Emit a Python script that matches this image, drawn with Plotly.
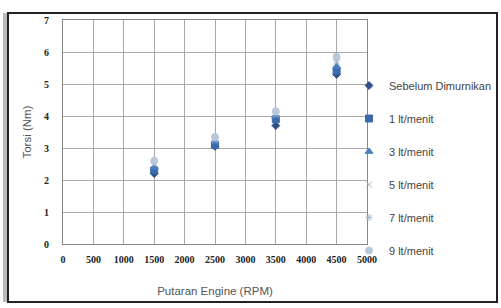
import plotly.graph_objects as go

rpm = [1500, 2500, 3500, 4500]
series_names = ["Sebelum Dimurnikan", "1 lt/menit", "3 lt/menit", "5 lt/menit", "7 lt/menit", "9 lt/menit"]
sebelum = [2.2, 3.05, 3.7, 5.3]
lt1 = [2.3, 3.1, 3.9, 5.4]
lt3 = [2.4, 3.2, 4.0, 5.55]
lt5 = [2.5, 3.25, 4.05, 5.7]
lt7 = [2.55, 3.3, 4.1, 5.75]
lt9 = [2.6, 3.35, 4.15, 5.85]
values = [sebelum, lt1, lt3, lt5, lt7, lt9]
x_ticks = list(range(0, 5001, 500))
y_ticks = list(range(0, 8))

symbols = ["diamond", "square", "triangle-up", "x-thin", "asterisk", "circle"]
colors = ["#2f4f86", "#3a6aa8", "#4a7fc0", "#b0b0b0", "#a8b8cc", "#b8c8dc"]
sizes = [6, 7, 7, 6, 6, 7]

fig = go.Figure()
for i, (name, vals) in enumerate(zip(series_names, values)):
    fig.add_trace(go.Scatter(
        x=rpm, y=vals, mode="markers", name=name, legendgroup=f"g{i}",
        marker=dict(symbol=symbols[i], color=colors[i], size=sizes[i],
                    line=dict(color=colors[i], width=1)),
    ))

L, R, T, B = 63, 367, 20, 244
W, H = R - L, B - T

fig.update_layout(
    width=501, height=308,
    margin=dict(l=L, r=501 - R, t=T, b=308 - B, autoexpand=False),
    paper_bgcolor="white", plot_bgcolor="white",
    showlegend=True,
    legend=dict(x=(349 - L) / W, y=(B - 71) / H, xanchor="left", yanchor="top",
                font=dict(family="Liberation Sans", size=11, color="#444"),
                tracegroupgap=14, itemwidth=30, bgcolor="rgba(0,0,0,0)"),
    xaxis=dict(range=[0, 5000], tickvals=x_ticks, showgrid=True, gridcolor="#a8a8a8", gridwidth=1,
               zeroline=False, showline=True, linecolor="#888", mirror=True,
               tickfont=dict(family="Liberation Serif", size=10, color="#222", weight="bold"),
               title=dict(text="Putaran Engine (RPM)", font=dict(family="Liberation Sans", size=11.5, color="#555"),
                          standoff=22),
               ticks="", ticklabelstandoff=6),
    yaxis=dict(range=[0, 7], tickvals=y_ticks, showgrid=True, gridcolor="#a8a8a8", gridwidth=1,
               zeroline=False, showline=True, linecolor="#888", mirror=True,
               tickfont=dict(family="Liberation Serif", size=10, color="#222", weight="bold"),
               title=dict(text="Torsi (Nm)", font=dict(family="Liberation Sans", size=11.5, color="#555"),
                          standoff=9),
               ticks="", ticklabelstandoff=11),
)

# outer chart frame
fig.add_shape(type="rect", xref="paper", yref="paper",
              x0=(8 - L) / W, x1=(497 - L) / W, y0=(B - 302) / H, y1=(B - 13) / H,
              line=dict(color="#222", width=2), fillcolor="rgba(0,0,0,0)", layer="below")
fig.add_shape(type="rect", xref="paper", yref="paper",
              x0=(3 - L) / W, x1=(7 - L) / W, y0=(B - 302) / H, y1=(B - 13) / H,
              line=dict(width=0), fillcolor="#bbbbbb", layer="below")

fig.write_html("out.html", config={"displayModeBar": False},
               post_script="document.body.style.margin='0px';document.body.style.overflow='hidden';")
